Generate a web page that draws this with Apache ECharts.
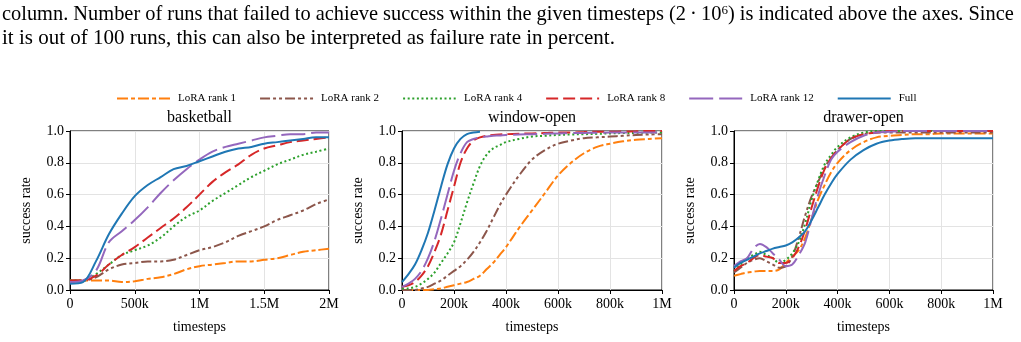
<!DOCTYPE html>
<html>
<head>
<meta charset="utf-8">
<script src="https://cdn.jsdelivr.net/npm/echarts@6/dist/echarts.min.js"></script>
<style>
  html, body { margin: 0; padding: 0; background: #fff; }
  #chart { width: 1021px; height: 342px; }
</style>
</head>
<body>
<div id="chart"></div>
<script>
var chart = echarts.init(document.getElementById('chart'));
var FONT = 'Liberation Serif';

// method names, colours and dash patterns
var methods = ['LoRA rank 1', 'LoRA rank 2', 'LoRA rank 4', 'LoRA rank 8', 'LoRA rank 12', 'Full'];
var colors = ['#ff7f0e', '#8c564b', '#2ca02c', '#d62728', '#9467bd', '#1f77b4'];
var dashes = [[11, 3, 4, 3], [10, 3, 3, 3, 3, 3], [2, 2.6], [12, 5], [24, 6], 'solid'];

var panelTitles = ['basketball', 'window-open', 'drawer-open'];

// basketball: timesteps 0 .. 2M
var basketX = [0, 100e3, 200e3, 300e3, 400e3, 500e3, 600e3, 700e3, 800e3, 900e3, 1e6,
  1.1e6, 1.2e6, 1.3e6, 1.4e6, 1.5e6, 1.6e6, 1.7e6, 1.8e6, 1.9e6, 2e6];
var basketRank1 = [0.06, 0.06, 0.06, 0.06, 0.05, 0.055, 0.07, 0.08, 0.10, 0.13, 0.15, 0.16, 0.17, 0.18, 0.18, 0.19, 0.20, 0.22, 0.24, 0.25, 0.26];
var basketRank2 = [0.06, 0.06, 0.08, 0.13, 0.16, 0.17, 0.18, 0.18, 0.19, 0.22, 0.25, 0.27, 0.30, 0.34, 0.37, 0.40, 0.44, 0.47, 0.50, 0.54, 0.57];
var basketRank4 = [0.06, 0.06, 0.10, 0.16, 0.22, 0.25, 0.28, 0.33, 0.40, 0.46, 0.50, 0.56, 0.61, 0.66, 0.71, 0.75, 0.79, 0.82, 0.85, 0.87, 0.89];
var basketRank8 = [0.06, 0.06, 0.09, 0.16, 0.22, 0.27, 0.33, 0.39, 0.45, 0.52, 0.60, 0.68, 0.74, 0.79, 0.85, 0.89, 0.91, 0.93, 0.94, 0.95, 0.96];
var basketRank12 = [0.05, 0.06, 0.12, 0.30, 0.37, 0.44, 0.52, 0.61, 0.69, 0.76, 0.82, 0.87, 0.90, 0.92, 0.94, 0.96, 0.97, 0.98, 0.98, 0.99, 0.99];
var basketFull = [0.04, 0.05, 0.18, 0.35, 0.48, 0.59, 0.66, 0.71, 0.76, 0.78, 0.81, 0.84, 0.87, 0.89, 0.90, 0.92, 0.93, 0.94, 0.95, 0.96, 0.96];

// window-open and drawer-open: timesteps 0 .. 1M
var shortX = [0, 25e3, 50e3, 75e3, 100e3, 125e3, 150e3, 175e3, 200e3, 225e3, 250e3, 275e3, 300e3, 325e3, 350e3,
  375e3, 400e3, 450e3, 500e3, 550e3, 600e3, 650e3, 700e3, 750e3, 800e3, 850e3, 900e3, 950e3, 1e6];

var windowRank1 = [0.0, 0.0, 0.0, 0.0, 0.0, 0.005, 0.01, 0.02, 0.03, 0.04, 0.05, 0.07, 0.09, 0.13, 0.17, 0.22, 0.27, 0.39, 0.50, 0.61, 0.72, 0.80, 0.86, 0.90, 0.92, 0.935, 0.945, 0.95, 0.955];
var windowRank2 = [0.0, 0.0, 0.0, 0.01, 0.02, 0.04, 0.06, 0.09, 0.12, 0.15, 0.19, 0.24, 0.30, 0.37, 0.45, 0.53, 0.60, 0.72, 0.82, 0.88, 0.92, 0.94, 0.955, 0.96, 0.965, 0.97, 0.975, 0.978, 0.98];
var windowRank4 = [0.01, 0.01, 0.02, 0.04, 0.07, 0.11, 0.17, 0.23, 0.30, 0.42, 0.55, 0.67, 0.78, 0.85, 0.89, 0.91, 0.93, 0.95, 0.965, 0.97, 0.975, 0.978, 0.98, 0.982, 0.985, 0.987, 0.988, 0.99, 0.99];
var windowRank8 = [0.02, 0.03, 0.05, 0.09, 0.15, 0.24, 0.35, 0.50, 0.65, 0.80, 0.89, 0.94, 0.96, 0.97, 0.975, 0.978, 0.98, 0.983, 0.985, 0.987, 0.99, 0.99, 0.993, 0.995, 0.995, 0.997, 0.998, 1.0, 1.0];
var windowRank12 = [0.02, 0.04, 0.07, 0.12, 0.20, 0.31, 0.45, 0.60, 0.75, 0.86, 0.93, 0.95, 0.96, 0.965, 0.97, 0.972, 0.975, 0.978, 0.98, 0.982, 0.985, 0.987, 0.988, 0.989, 0.99, 0.99, 0.99, 0.99, 0.99];
var windowFull = [0.05, 0.10, 0.16, 0.25, 0.36, 0.50, 0.65, 0.79, 0.89, 0.95, 0.98, 0.99, 0.995];

var drawerRank1 = [0.09, 0.10, 0.11, 0.115, 0.12, 0.12, 0.12, 0.13, 0.17, 0.21, 0.25, 0.33, 0.45, 0.57, 0.66, 0.74, 0.80, 0.88, 0.93, 0.96, 0.97, 0.975, 0.98, 0.98, 0.985, 0.985, 0.985, 0.985, 0.985];
var drawerRank2 = [0.11, 0.14, 0.17, 0.19, 0.20, 0.18, 0.16, 0.14, 0.15, 0.21, 0.33, 0.47, 0.59, 0.68, 0.77, 0.83, 0.88, 0.95, 0.98, 0.99, 0.99, 0.99, 0.99, 0.99, 0.99, 0.99, 0.99, 0.99, 0.99];
var drawerRank4 = [0.12, 0.16, 0.20, 0.22, 0.24, 0.22, 0.20, 0.17, 0.19, 0.23, 0.30, 0.42, 0.57, 0.69, 0.79, 0.85, 0.90, 0.96, 0.99, 1.0, 1.0, 1.0, 1.0, 1.0, 1.0, 1.0, 1.0, 1.0, 1.0];
var drawerRank8 = [0.12, 0.15, 0.17, 0.20, 0.22, 0.21, 0.20, 0.17, 0.17, 0.20, 0.27, 0.38, 0.52, 0.65, 0.76, 0.83, 0.88, 0.95, 0.98, 0.99, 1.0, 1.0, 1.0, 1.0, 1.0, 1.0, 1.0, 1.0, 1.0];
var drawerRank12 = [0.15, 0.18, 0.20, 0.26, 0.29, 0.27, 0.23, 0.19, 0.15, 0.16, 0.22, 0.30, 0.45, 0.60, 0.72, 0.82, 0.87, 0.93, 0.97, 0.99, 0.995, 1.0, 1.0, 1.0, 1.0, 1.0, 1.0, 1.0, 1.0];
var drawerFull = [0.14, 0.17, 0.19, 0.21, 0.23, 0.245, 0.26, 0.27, 0.28, 0.30, 0.33, 0.37, 0.44, 0.52, 0.60, 0.67, 0.73, 0.82, 0.88, 0.92, 0.94, 0.95, 0.955, 0.955, 0.955, 0.955, 0.955, 0.955, 0.955];

var panelX = [basketX, shortX, shortX];
var panelData = [
  [basketRank1, basketRank2, basketRank4, basketRank8, basketRank12, basketFull],
  [windowRank1, windowRank2, windowRank4, windowRank8, windowRank12, windowFull],
  [drawerRank1, drawerRank2, drawerRank4, drawerRank8, drawerRank12, drawerFull]
];
var panelMax = [2e6, 1e6, 1e6];
var panelInterval = [500e3, 200e3, 200e3];

var gridLeft = [70, 402, 734];
var gridWidth = [259, 260, 259];

function fmtSteps(v) {
  if (v == 0) return '0';
  if (v >= 1e6) return (v / 1e6) + 'M';
  return (v / 1000) + 'k';
}

var grids = [], xAxes = [], yAxes = [], series = [], graphics = [];
for (var p = 0; p < 3; p++) {
  grids.push({
    left: gridLeft[p], top: 131, width: gridWidth[p], height: 159,
    show: true, borderColor: '#000', borderWidth: 1
  });
  xAxes.push({
    type: 'value', gridIndex: p, min: 0, max: panelMax[p], interval: panelInterval[p],
    name: 'timesteps', nameLocation: 'middle', nameGap: 30,
    nameTextStyle: { fontFamily: FONT, fontSize: 14, color: '#000' },
    axisLine: { show: true, lineStyle: { color: '#000', width: 1 } },
    axisTick: { show: true, length: 4, lineStyle: { color: '#000' } },
    axisLabel: { formatter: fmtSteps, fontFamily: FONT, fontSize: 14, color: '#000', margin: 7 },
    splitLine: { show: true, lineStyle: { color: '#e3e3e3', width: 1 } }
  });
  yAxes.push({
    type: 'value', gridIndex: p, min: 0, max: 1, interval: 0.2,
    name: 'success rate', nameLocation: 'middle', nameGap: 37,
    nameTextStyle: { fontFamily: FONT, fontSize: 14, color: '#000' },
    axisLine: { show: true, lineStyle: { color: '#000', width: 1 } },
    axisTick: { show: true, length: 4, lineStyle: { color: '#000' } },
    axisLabel: { formatter: function (v) { return v.toFixed(1); }, fontFamily: FONT, fontSize: 14, color: '#000', margin: 6 },
    splitLine: { show: true, lineStyle: { color: '#e3e3e3', width: 1 } }
  });
  for (var m = 0; m < methods.length; m++) {
    var ys = panelData[p][m];
    var pts = [];
    for (var i = 0; i < ys.length; i++) pts.push([panelX[p][i], ys[i]]);
    series.push({
      name: methods[m], type: 'line', xAxisIndex: p, yAxisIndex: p,
      data: pts, showSymbol: false, symbol: 'none', smooth: 0.35,
      color: colors[m],
      lineStyle: { color: colors[m], width: 2, type: dashes[m], cap: 'butt' },
      animation: false, silent: true
    });
  }
  graphics.push({
    type: 'text', x: gridLeft[p] + gridWidth[p] / 2, y: 118,
    style: { text: panelTitles[p], font: '16px "Liberation Serif"', fill: '#000', align: 'center', verticalAlign: 'middle' }
  });
}

// caption text above the figure
graphics.push({
  type: 'text', x: 2, y: 15,
  style: {
    text: 'column. Number of runs that failed to achieve success within the given timesteps (2\u2009·\u200910{sup|6}) is indicated above the axes. Since',
    font: '20.4px "Liberation Serif"', fill: '#000', verticalAlign: 'middle',
    rich: { sup: { fontSize: 13, fontFamily: FONT, padding: [0, 0, 9, 0] } }
  }
});
graphics.push({
  type: 'text', x: 2, y: 38,
  style: {
    text: 'it is out of 100 runs, this can also be interpreted as failure rate in percent.',
    font: '21px "Liberation Serif"', fill: '#000', verticalAlign: 'middle'
  }
});

var option = {
  backgroundColor: '#fff',
  animation: false,
  legend: {
    data: methods, left: 111, top: 88, itemWidth: 53, itemHeight: 14, itemGap: 23,
    itemStyle: { opacity: 0 },
    textStyle: { fontFamily: FONT, fontSize: 11, color: '#000', padding: [0, 0, 0, 3] }
  },
  grid: grids,
  xAxis: xAxes,
  yAxis: yAxes,
  series: series,
  graphic: graphics
};
chart.setOption(option);
</script>
</body>
</html>
